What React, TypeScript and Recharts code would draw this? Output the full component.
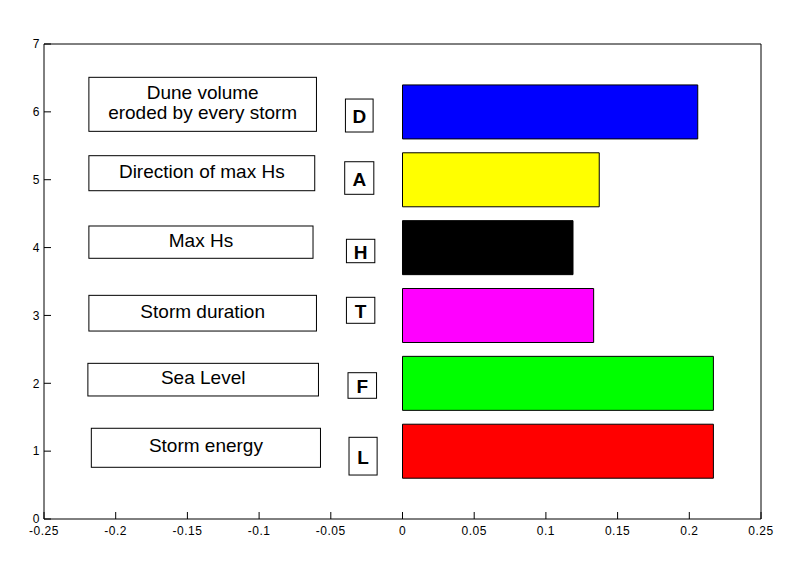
import React from "react";
import { BarChart, Bar, Cell, XAxis, YAxis, ReferenceArea } from "recharts";

// bar positions on the y axis, bottom to top
const positions = [1, 2, 3, 4, 5, 6];
const factors = [
  "Storm energy",
  "Sea Level",
  "Storm duration",
  "Max Hs",
  "Direction of max Hs",
  "Dune volume\neroded by every storm",
];
const codes = ["L", "F", "T", "H", "A", "D"];
const values = [0.2168, 0.2168, 0.1333, 0.1189, 0.1372, 0.2059];
const barColors = ["#ff0000", "#00ff00", "#ff00ff", "#000000", "#ffff00", "#0000ff"];

const xTicks = [-0.25, -0.2, -0.15, -0.1, -0.05, 0, 0.05, 0.1, 0.15, 0.2, 0.25];
const yTicks = [0, 1, 2, 3, 4, 5, 6, 7];

// annotation boxes in data units: [x1, x2, y1, y2]
const nameBoxes = [
  [-0.217, -0.0572, 0.762, 1.337],
  [-0.2194, -0.0586, 1.813, 2.294],
  [-0.2187, -0.06, 2.77, 3.296],
  [-0.2187, -0.0624, 3.842, 4.318],
  [-0.2187, -0.0612, 4.838, 5.354],
  [-0.2187, -0.06, 5.713, 6.509],
];
const codeBoxes = [
  [-0.0373, -0.0177, 0.648, 1.204],
  [-0.038, -0.0181, 1.779, 2.156],
  [-0.0391, -0.0193, 2.884, 3.267],
  [-0.0391, -0.0193, 3.777, 4.122],
  [-0.0403, -0.02, 4.785, 5.265],
  [-0.0398, -0.0205, 5.703, 6.189],
];

const FONT = '"Liberation Sans", Arial, Helvetica, sans-serif';

const data = positions.map((p, i) => ({ pos: p, value: values[i] }));

function boxShape(text: string, bold: boolean) {
  return (props: any) => {
    const { x, y, width, height } = props;
    const lines = text.split("\n");
    const cx = x + width / 2;
    const cy = y + height / 2 - (bold ? -1 : 2);
    const lh = 20;
    return (
      <g>
        <rect x={x} y={y} width={width} height={height} fill="#fff" stroke="#000" strokeWidth={1} />
        <text
          x={cx}
          textAnchor="middle"
          fontFamily={FONT}
          fontSize={19}
          fontWeight={bold ? "bold" : "normal"}
          fill="#000"
        >
          {lines.map((l, k) => (
            <tspan key={k} x={cx} y={cy + (k - (lines.length - 1) / 2) * lh} dy="0.35em">
              {l}
            </tspan>
          ))}
        </text>
      </g>
    );
  };
}

const tickStyle = { fontFamily: FONT, fontSize: 12, fill: "#000", letterSpacing: 0.5 };

export default function App() {
  return (
    <div style={{ width: 776, height: 567, background: "#fff" }}>
      <BarChart
        width={776}
        height={567}
        data={data}
        layout="vertical"
        margin={{ top: 35, right: 22, bottom: 55, left: 35 }}
      >
        <XAxis
          xAxisId="bottom"
          type="number"
          domain={[-0.25, 0.25]}
          ticks={xTicks}
          height={1}
          tickSize={-7}
          tickMargin={14}
          tick={tickStyle}
          axisLine={{ stroke: "#000" }}
          tickLine={{ stroke: "#000" }}
          allowDataOverflow
        />
        <XAxis
          xAxisId="top"
          orientation="top"
          type="number"
          domain={[-0.25, 0.25]}
          ticks={xTicks}
          height={1}
          tickSize={-7}
          tick={false}
          axisLine={{ stroke: "#000" }}
          tickLine={{ stroke: "#000" }}
          allowDataOverflow
        />
        <YAxis
          yAxisId="left"
          type="number"
          dataKey="pos"
          domain={[0, 7]}
          ticks={yTicks}
          reversed
          width={1}
          tickSize={-7}
          tickMargin={11}
          tick={tickStyle}
          axisLine={{ stroke: "#000" }}
          tickLine={{ stroke: "#000" }}
          allowDataOverflow
        />
        <YAxis
          yAxisId="right"
          orientation="right"
          type="number"
          domain={[0, 7]}
          ticks={yTicks}
          reversed
          width={1}
          tickSize={-7}
          tick={false}
          axisLine={{ stroke: "#000" }}
          tickLine={{ stroke: "#000" }}
          allowDataOverflow
        />
        <Bar
          dataKey="value"
          xAxisId="bottom"
          yAxisId="left"
          barSize={54}
          stroke="#000"
          strokeWidth={1}
          isAnimationActive={false}
        >
          {data.map((d, i) => (
            <Cell key={d.pos} fill={barColors[i]} />
          ))}
        </Bar>
        {nameBoxes.map((b, i) => (
          <ReferenceArea
            key={"n" + i}
            xAxisId="bottom"
            yAxisId="left"
            x1={b[0]}
            x2={b[1]}
            y1={b[2]}
            y2={b[3]}
            shape={boxShape(factors[i], false)}
          />
        ))}
        {codeBoxes.map((b, i) => (
          <ReferenceArea
            key={"c" + i}
            xAxisId="bottom"
            yAxisId="left"
            x1={b[0]}
            x2={b[1]}
            y1={b[2]}
            y2={b[3]}
            shape={boxShape(codes[i], true)}
          />
        ))}
      </BarChart>
    </div>
  );
}
